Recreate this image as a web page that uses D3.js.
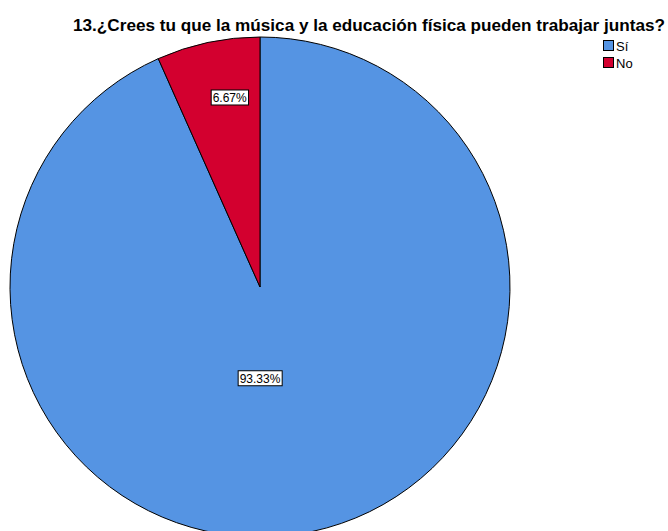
<!DOCTYPE html>
<html><head><meta charset="utf-8">
<script src="https://cdn.jsdelivr.net/npm/d3@7"></script>
<style>body{margin:0;background:#fff}svg{display:block}</style>
</head><body>
<script>
const title = "13.¿Crees tu que la música y la educación física pueden trabajar juntas?";
const categories = ["Sí", "No"];
const values = [93.33, 6.67];
const labels = ["93.33%", "6.67%"];
const colors = ["#5594e3", "#d3002f"];

const W = 668, H = 531;
const svg = d3.select("body").append("svg").attr("width", W).attr("height", H);
svg.append("rect").attr("width", W).attr("height", H).attr("fill", "#fff");

const cx = 260, cy = 287, R = 250;
const data = categories.map((c, i) => ({cat: c, v: values[i], lab: labels[i], col: colors[i]}));
const pie = d3.pie().value(d => d.v).sort(null)
  .startAngle(0).endAngle(2 * Math.PI);
const arcs = pie(data);
const arc = d3.arc().innerRadius(0).outerRadius(R);

const g = svg.append("g").attr("transform", `translate(${cx},${cy})`);
g.selectAll("path").data(arcs).join("path")
  .attr("d", arc).attr("fill", d => d.data.col)
  .attr("stroke", "#000").attr("stroke-width", 1);

function labelPos(d, i) {
  if (i === 0) return [0, R * 0.365];
  const a = (d.startAngle + d.endAngle) / 2;
  const r = R * 0.775;
  return [Math.sin(a) * r + 10, -Math.cos(a) * r];
}
arcs.forEach((d, i) => {
  const [x, y] = labelPos(d, i);
  const lg = g.append("g").attr("transform", `translate(${x},${y})`);
  const t = lg.append("text").text(d.data.lab)
    .attr("font-family", "Liberation Sans, Arial, sans-serif").attr("font-size", 12)
    .attr("text-anchor", "middle").attr("dy", "0.36em").attr("fill", "#000");
  const bb = t.node().getBBox();
  lg.insert("rect", "text").attr("x", bb.x - 1.5).attr("y", -7.5).attr("width", bb.width + 3).attr("height", 15)
    .attr("fill", "#fff").attr("stroke", "#000").attr("stroke-width", 1);
});

svg.append("text").text(title).attr("x", 369).attr("y", 31)
  .attr("text-anchor", "middle").attr("font-family", "Liberation Sans, Arial, sans-serif")
  .attr("font-weight", "bold").attr("font-size", 17).attr("fill", "#000")
  .attr("textLength", 592).attr("lengthAdjust", "spacingAndGlyphs");

const leg = svg.append("g");
categories.forEach((c, i) => {
  leg.append("rect").attr("x", 603.5).attr("y", 40.5 + i * 17).attr("width", 10).attr("height", 10)
    .attr("fill", colors[i]).attr("stroke", "#000").attr("stroke-width", 1);
  leg.append("text").text(c).attr("x", 616).attr("y", 51 + i * 17)
    .attr("font-family", "Liberation Sans, Arial, sans-serif").attr("font-size", 13).attr("fill", "#000");
});
</script>
</body></html>
